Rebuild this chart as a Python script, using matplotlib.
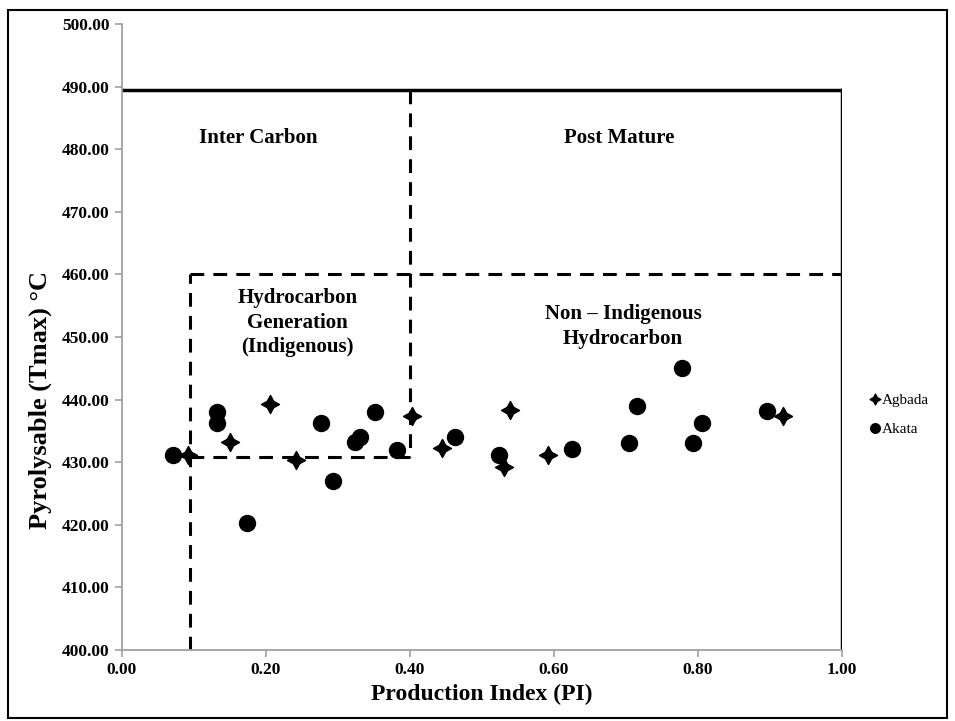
import matplotlib.pyplot as plt
from matplotlib.patches import Rectangle
from matplotlib.path import Path
import numpy as np

plt.rcParams['font.family'] = ['Liberation Serif', 'DejaVu Serif']

# Agbada (star markers)
agbada_pi = [0.092, 0.150, 0.206, 0.242, 0.403, 0.444, 0.531, 0.539, 0.592, 0.918]
agbada_tmax = [431.1, 433.2, 439.3, 430.3, 437.3, 432.3, 429.3, 438.3, 431.1, 437.3]

# Akata (circle markers)
akata_pi = [0.071, 0.132, 0.132, 0.174, 0.276, 0.293, 0.323, 0.330, 0.351, 0.382,
            0.462, 0.524, 0.625, 0.704, 0.715, 0.778, 0.793, 0.805, 0.896]
akata_tmax = [431.1, 438.0, 436.2, 420.3, 436.3, 427.0, 433.2, 434.0, 438.0, 432.0,
              434.0, 431.1, 432.1, 433.1, 439.0, 445.1, 433.1, 436.3, 438.1]

zone_labels = ["Inter Carbon", "Post Mature",
               "Hydrocarbon\nGeneration\n(Indigenous)",
               "Non \u2013 Indigenous\nHydrocarbon"]

# 4-point star, fat like the original
ang = np.arange(8) * np.pi / 4 + np.pi / 2
rad = np.array([1, 0.5] * 4)
verts = np.column_stack([rad * np.cos(ang), rad * np.sin(ang)])
verts = np.vstack([verts, verts[0]])
star4 = Path(verts, [Path.MOVETO] + [Path.LINETO] * 7 + [Path.CLOSEPOLY])

fig = plt.figure(figsize=(9.55, 7.21), dpi=100)
ax = fig.add_axes([0.1277, 0.0985, 0.7540, 0.8682])

# zone boundaries
ax.plot([0, 1.0], [489.5, 489.5], color='black', lw=2.5)
ax.plot([1.0, 1.0], [400, 489.5], color='black', lw=2.5)
dash = dict(color='black', lw=2.2, ls=(0, (4.5, 3)))
ax.plot([0.4, 0.4], [489.5, 430.8], **dash)
ax.plot([0.095, 1.0], [460, 460], **dash)
ax.plot([0.095, 0.095], [400, 460], **dash)
ax.plot([0.095, 0.4], [430.8, 430.8], **dash)

ax.plot(akata_pi, akata_tmax, 'o', color='black', ms=11.5, ls='none', label='Akata', zorder=3)
ax.plot(agbada_pi, agbada_tmax, marker=star4, color='black', ms=13, ls='none',
        label='Agbada', zorder=3)

tf = dict(fontsize=15, fontweight='bold', ha='center', va='center')
ax.text(0.189, 481.8, zone_labels[0], **tf)
ax.text(0.690, 481.8, zone_labels[1], **tf)
ax.text(0.244, 452.3, zone_labels[2], linespacing=1.3, **tf)
ax.text(0.696, 451.7, zone_labels[3], linespacing=1.3, **tf)

ax.set_xlim(0, 1.0)
ax.set_ylim(400, 500)
ax.set_xticks([0, 0.2, 0.4, 0.6, 0.8, 1.0])
ax.set_xticklabels(['%.2f' % v for v in [0, 0.2, 0.4, 0.6, 0.8, 1.0]])
ax.set_yticks(range(400, 501, 10))
ax.set_yticklabels(['%.2f' % v for v in range(400, 501, 10)])
ax.tick_params(labelsize=12.5, color='#a0a0a0', length=5, width=1.2, direction='out', pad=4)
for t in ax.get_xticklabels() + ax.get_yticklabels():
    t.set_fontweight('bold')
for s in ['top', 'right']:
    ax.spines[s].set_visible(False)
for s in ['left', 'bottom']:
    ax.spines[s].set_color('#a0a0a0')
    ax.spines[s].set_linewidth(1.3)
ax.set_xlabel('Production Index (PI)', fontsize=17, fontweight='bold', labelpad=4)
ax.set_ylabel('Pyrolysable (Tmax) \u00b0C', fontsize=19, fontweight='bold')
ax.yaxis.set_label_coords(-0.097, 0.40)

h, l = ax.get_legend_handles_labels()
leg = fig.legend([h[1], h[0]], [l[1], l[0]], loc='center left',
                 bbox_to_anchor=(0.897, 0.425), frameon=False,
                 markerscale=0.6, handlelength=0.6, handletextpad=0.15,
                 labelspacing=1.0, prop={'family': 'Liberation Serif', 'size': 11})

fig.patches.append(Rectangle((0.008, 0.004), 0.984, 0.982, transform=fig.transFigure,
                             fill=False, edgecolor='black', lw=1.5))

fig.savefig('out.png', dpi=100)
